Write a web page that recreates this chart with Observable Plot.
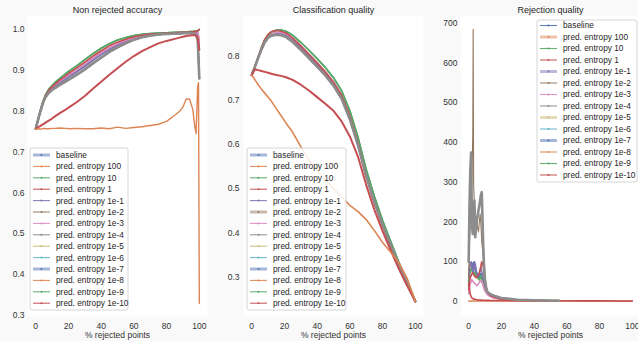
<!DOCTYPE html>
<html><head><meta charset="utf-8">
<script src="https://cdn.jsdelivr.net/npm/d3@7"></script>
<script src="https://cdn.jsdelivr.net/npm/@observablehq/plot@0.6"></script>
<style>
html,body{margin:0;padding:0;background:#f9f9f9;overflow:hidden;width:638px;height:341px;}
#wrap{position:relative;width:638px;height:341px;overflow:hidden;}
#wrap svg{position:absolute;top:0;}
</style></head><body><div id="wrap"></div><script>
const names = ["baseline","pred. entropy 100","pred. entropy 10","pred. entropy 1","pred. entropy 1e-1","pred. entropy 1e-2","pred. entropy 1e-3","pred. entropy 1e-4","pred. entropy 1e-5","pred. entropy 1e-6","pred. entropy 1e-7","pred. entropy 1e-8","pred. entropy 1e-9","pred. entropy 1e-10"];
const colors = ["#4c72b0","#dd8452","#55a868","#c44e52","#8172b3","#937860","#da8bc3","#8c8c8c","#ccb974","#64b5cd","#4c72b0","#dd8452","#55a868","#c44e52"];
const titles = ["Non rejected accuracy","Classification quality","Rejection quality"];
const xLabel = "% rejected points";
const xTicks = [0,20,40,60,80,100];

// ---- Non rejected accuracy ----
const xL = [0,1,2,3,4,5,6,8,10,12,15,18,21,25,30,35,40,45,50,55,60,65,70,75,80,85,88,90,92,94,96,97,98,99,99.5,100];
const accL_1e4 = [.757,.772,.787,.801,.814,.826,.834,.845,.852,.857,.865,.872,.879,.889,.902,.917,.931,.945,.956,.966,.975,.981,.985,.988,.989,.990,.990,.991,.991,.991,.990,.989,.987,.975,.93,.88];
const accL_10 = [.757,.773,.789,.804,.818,.830,.840,.854,.863,.871,.881,.891,.900,.911,.926,.941,.954,.965,.974,.980,.985,.988,.990,.991,.992,.993,.993,.994,.994,.995,.995,.996,.996,.997,.998,1.0];
const accL_1e3 = [.757,.772,.788,.802,.816,.828,.837,.850,.858,.865,.874,.883,.891,.901,.915,.930,.943,.955,.965,.973,.979,.984,.987,.989,.991,.992,.992,.993,.993,.994,.994,.994,.995,.993,.985,.97];
const accL_1e1 = [.757,.772,.787,.802,.815,.827,.836,.848,.856,.862,.870,.878,.886,.896,.910,.925,.939,.951,.962,.970,.978,.983,.986,.988,.990,.991,.991,.992,.992,.993,.993,.993,.994,.99,.97,.95];
const accL_1e10 = [.757,.773,.788,.803,.817,.829,.838,.851,.860,.867,.877,.886,.895,.906,.920,.935,.948,.960,.969,.976,.982,.986,.989,.990,.991,.992,.993,.993,.993,.994,.994,.995,.995,.996,.998,1.0];
const accL_1 = [.757,.759,.762,.764,.767,.769,.772,.777,.782,.788,.796,.803,.811,.822,.837,.855,.872,.889,.905,.921,.935,.947,.957,.966,.972,.977,.980,.982,.984,.985,.986,.986,.985,.98,.965,.95];
const accL_100 = [.757,.756,.757,.756,.757,.758,.757,.757,.758,.758,.759,.758,.757,.758,.757,.757,.759,.757,.761,.758,.760,.762,.765,.768,.775,.790,.800,.810,.830,.830,.805,.770,.745,.860,.870,.330];
const accL_base = accL_1e4, accL_1e2 = accL_1e1, accL_1e5 = accL_1e3, accL_1e6 = accL_1e1, accL_1e7 = accL_1e4, accL_1e8 = accL_1e4, accL_1e9 = accL_10;

// ---- Classification quality ----
const xM = [0,2,4,6,8,10,12,15,18,21,25,30,35,40,45,50,55,60,65,70,75,80,85,90,95,100];
const clsM_1e4 = [.757,.776,.796,.815,.831,.841,.846,.848,.847,.843,.832,.814,.795,.776,.756,.733,.703,.657,.598,.528,.470,.418,.372,.327,.286,.245];
const clsM_10 = [.757,.777,.798,.819,.837,.848,.854,.858,.859,.856,.847,.831,.813,.794,.774,.751,.721,.676,.616,.543,.482,.428,.380,.333,.290,.245];
const clsM_1e3 = [.757,.776,.797,.817,.834,.845,.850,.853,.853,.850,.840,.823,.804,.785,.765,.742,.712,.667,.608,.536,.476,.423,.376,.330,.288,.245];
const clsM_1e1 = [.757,.776,.796,.816,.832,.843,.848,.850,.850,.846,.836,.819,.800,.781,.761,.738,.708,.662,.603,.532,.473,.421,.374,.329,.287,.245];
const clsM_1e10 = [.757,.777,.798,.819,.837,.849,.855,.858,.856,.852,.841,.823,.804,.784,.763,.740,.710,.664,.604,.528,.468,.416,.370,.325,.284,.245];
const clsM_1 = [.757,.770,.768,.766,.764,.762,.760,.757,.755,.752,.746,.735,.722,.707,.692,.676,.652,.618,.572,.508,.452,.404,.360,.318,.280,.245];
const clsM_100 = [.757,.746,.735,.725,.716,.707,.698,.681,.665,.648,.628,.595,.565,.541,.520,.500,.481,.462,.448,.430,.405,.378,.356,.332,.297,.245];
const clsM_base = clsM_1e4, clsM_1e2 = clsM_1e1, clsM_1e5 = clsM_1e3, clsM_1e6 = clsM_1e1, clsM_1e7 = clsM_1e4, clsM_1e8 = clsM_1e4, clsM_1e9 = clsM_10;

// ---- Rejection quality ----
const xR = [0,0.5,1,1.5,2,2.5,2.75,3,3.5,4,4.5,5,5.5,6,6.5,7,7.5,8,8.5,9,9.5,10,11,12,14,16,20,25,30,40,50,55,60,70,80,90,100];
const rejR_1e4 = [100,240,330,375,190,170,200,220,254,162,185,204,215,230,240,255,268,275,200,120,80,53,28,22,17,14,9,6.7,4.5,3.2,2.7,2.5,null,null,null,null,null];
const rejR_1e2 = [60,150,200,260,320,420,685,300,240,230,210,200,185,175,200,220,190,150,130,140,110,60,30,22,16,12,8,5.5,4,3,2.5,2.3,null,null,null,null,null];
const rejR_1e1 = [60,85,95,100,90,75,72,80,100,95,80,70,65,62,70,80,85,75,65,55,45,38,28,20,14,11,7,5,3.5,2.5,2,null,null,null,null,null,null];
const rejR_base = [50,80,95,90,85,92,95,98,90,85,75,68,62,60,65,70,68,62,55,48,40,34,25,18,13,10,7,5,3.5,2.5,2,null,null,null,null,null,null];
const rejR_10 = [40,70,80,78,82,85,82,75,70,72,68,62,60,58,55,60,65,62,55,48,42,36,26,19,13,10,6.5,4.5,3.3,2.4,1.9,null,null,null,null,null,null];
const rejR_1e3 = [20,35,45,50,55,52,50,48,46,44,42,40,42,45,48,50,52,50,45,38,30,26,20,15,11,8,5.5,4,3,2.2,1.8,null,null,null,null,null,null];
const rejR_1e10 = [30,50,60,65,70,72,70,68,65,62,60,62,65,68,72,80,90,100,95,85,70,50,30,20,13,10,6.5,4.5,3.3,2.4,1.9,null,null,null,null,null,null];
const rejR_1e5 = [50,98,88,80,75,72,70,68,66,65,63,60,58,56,55,54,53,50,45,40,35,30,24,18,13,10,6.5,4.5,3.3,2.4,1.9,null,null,null,null,null,null];
const rejR_1 = [45,30,18,12,9,7,6.8,6.5,6,5.5,5,4.6,4.3,4,3.8,3.6,3.5,3.4,3.3,3.2,3.1,3,2.9,2.8,2.7,2.6,2.4,2.2,2.1,2,1.9,1.8,1.8,1.6,1.5,1.3,1.2];
const rejR_100 = [1,1,1.1,1,0.9,1,1,1.1,1,1,1,0.9,1,1,1,1,1.1,1,1,1,1,1,1,1,1,1,1,1,1,1,1,1,1,1,1,1,1];
const rejR_1e6 = rejR_base, rejR_1e7 = rejR_base, rejR_1e8 = rejR_10, rejR_1e9 = rejR_10;

const font = "'Liberation Sans', Arial, sans-serif";
const wrap = document.getElementById("wrap");

function panel(cfg) {
  cfg.ys.forEach((a, i) => { if (a.length !== cfg.xs.length) throw new Error(cfg.title + " series " + i + " length " + a.length); });
  const marks = [Plot.frame({fill: "#ffffff", stroke: "none"})];
  for (const s of cfg.order) {
    const rows = cfg.xs.map((x, i) => ({x, y: cfg.ys[s][i]}));
    marks.push(Plot.line(rows, {x: "x", y: "y", stroke: colors[s], strokeWidth: cfg.widths[s] ?? 1.6}));
  }
  marks.push(Plot.text([cfg.title], {text: d => d, frameAnchor: "top", dy: -5, lineAnchor: "middle", fontSize: 9, fill: "#262626"}));
  const svg = Plot.plot({
    width: cfg.width, height: 341,
    marginLeft: 27, marginRight: cfg.mR, marginTop: 15, marginBottom: 25,
    style: {background: "transparent", fontFamily: font, fontSize: "8.5px", color: "#333", overflow: "visible"},
    x: {domain: [-5, 105], ticks: xTicks, tickSize: 0, tickPadding: 6, label: xLabel, labelAnchor: "center", labelOffset: 21, labelArrow: "none"},
    y: {domain: cfg.yDomain, ticks: cfg.yTicks, tickSize: 0, tickPadding: cfg.yPad, tickFormat: cfg.yFmt, label: null},
    marks
  });
  svg.style.left = cfg.left + "px";
  const L = cfg.leg;
  const g = d3.select(svg).append("g").attr("font-family", font).attr("font-size", 8.3).attr("text-anchor", "start");
  g.append("rect").attr("x", L.x).attr("y", L.y).attr("width", L.w).attr("height", L.h).attr("rx", 2)
    .attr("fill", "#fff").attr("fill-opacity", 0.85).attr("stroke", "#cccccc").attr("stroke-width", 0.8);
  names.forEach((n, i) => {
    const y = L.row0 + i * L.step;
    const thick = L.thick.includes(i);
    g.append("line").attr("x1", L.sx).attr("x2", L.sx + 17).attr("y1", y).attr("y2", y)
      .attr("stroke", colors[i]).attr("stroke-width", thick ? 3 : 1.1).attr("stroke-opacity", thick ? 0.5 : 0.9);
    g.append("circle").attr("cx", L.sx + 8.5).attr("cy", y).attr("r", 1).attr("fill", colors[i]);
    g.append("text").attr("x", L.tx).attr("y", y).attr("dy", "0.35em").attr("text-anchor", "start").attr("fill", "#262626").text(n);
  });
  wrap.appendChild(svg);
}

panel({
  title: titles[0], left: 0, width: 215, mR: 8, xs: xL,
  ys: [accL_base, accL_100, accL_10, accL_1, accL_1e1, accL_1e2, accL_1e3, accL_1e4, accL_1e5, accL_1e6, accL_1e7, accL_1e8, accL_1e9, accL_1e10],
  order: [0,5,8,9,10,11,4,6,12,2,13,7,3,1],
  widths: {7: 2.6, 3: 2, 1: 1.4},
  yDomain: [0.2975, 1.0342], yTicks: [0.3,0.4,0.5,0.6,0.7,0.8,0.9,1.0], yFmt: ".1f", yPad: 3,
  leg: {x: 30, y: 148, w: 98, h: 162, row0: 155, step: 11.4, sx: 33, tx: 56, thick: [0,10]}
});
panel({
  title: titles[1], left: 216, width: 215, mR: 8, xs: xM,
  ys: [clsM_base, clsM_100, clsM_10, clsM_1, clsM_1e1, clsM_1e2, clsM_1e3, clsM_1e4, clsM_1e5, clsM_1e6, clsM_1e7, clsM_1e8, clsM_1e9, clsM_1e10],
  order: [0,5,8,9,10,11,4,6,12,2,13,7,3,1],
  widths: {7: 2.6, 3: 2, 1: 1.6},
  yDomain: [0.2107, 0.8916], yTicks: [0.3,0.4,0.5,0.6,0.7,0.8], yFmt: ".1f", yPad: 4,
  leg: {x: 31, y: 148, w: 99, h: 162, row0: 155, step: 11.4, sx: 34, tx: 57, thick: [0,5,10]}
});
panel({
  title: titles[2], left: 433, width: 207, mR: 0, xs: xR,
  ys: [rejR_base, rejR_100, rejR_10, rejR_1, rejR_1e1, rejR_1e2, rejR_1e3, rejR_1e4, rejR_1e5, rejR_1e6, rejR_1e7, rejR_1e8, rejR_1e9, rejR_1e10],
  order: [9,10,11,12,0,8,2,4,6,13,1,3,5,7],
  widths: {7: 2.6, 5: 1.1, 1: 1.5},
  yDomain: [-37.7, 719.5], yTicks: [0,100,200,300,400,500,600,700], yFmt: "d", yPad: 3,
  leg: {x: 104, y: 20, w: 100, h: 162, row0: 25.5, step: 11.5, sx: 107, tx: 130, thick: [1,4,8,10]}
});
</script></body></html>
